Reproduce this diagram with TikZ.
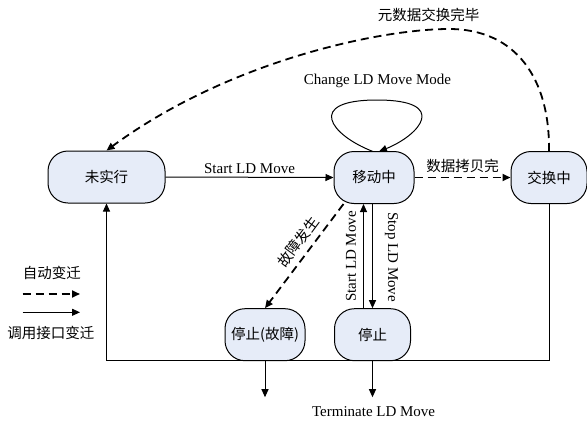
\documentclass[tikz,border=0pt]{standalone}
\usepackage{fontspec}
\setmainfont{Liberation Serif}
\newfontfamily\cjk{Noto Sans CJK SC}
\usetikzlibrary{arrows.meta,calc}
\definecolor{boxfill}{RGB}{230,236,248}
\tikzset{
  state/.style={draw=black, line width=1pt, fill=boxfill, rounded corners=20pt,
    minimum height=52pt, inner sep=1pt, font=\cjk\fontsize{14.5}{17}\selectfont},
  tip/.style={-{Triangle[length=8pt,width=7pt]}},
  solidarrow/.style={tip, line width=1pt},
  autoarrow/.style={tip, line width=1.8pt, dash pattern=on 8pt off 5pt},
  lat/.style={font=\fontsize{15}{17}\selectfont, inner sep=1pt},
  cn/.style={font=\cjk\fontsize{14.5}{17}\selectfont, inner sep=1pt},
}
\begin{document}
\begin{tikzpicture}[x=1pt,y=-1pt]
\useasboundingbox (0,0) rectangle (587,421);
% states
\node[state, minimum width=117pt] (n1) at (106.5,177) {未实行};
\node[state, minimum width=80pt] (n2) at (374,177.5) {移动中};
\node[state, minimum width=76pt] (n3) at (549,177.5) {交换中};
\node[state, minimum width=80pt] (n4) at (265,334.7) {停止(故障)};
\node[state, minimum width=76pt] (n5) at (372.5,334.7) {停止};
\coordinate (bl) at (0,360.7);
\coordinate (sx) at (363.5,0);
\coordinate (tx) at (372.5,0);
% Start LD Move
\draw[solidarrow] (n1.east) -- node[lat, above=2pt] {Start LD Move} (n2.west);
% 数据拷贝完
\draw[autoarrow] (n2.east) -- node[cn, above=3pt] {数据拷贝完} (n3.west);
% self loop
\draw[solidarrow] (373,151.5) .. controls (330,135) and (305,100) .. (377,100)
  .. controls (450,100) and (420,135) .. (379,151.5);
\node[lat] (cm) at (377.5,81) {Change LD Move Mode};
% big dashed curve
\draw[autoarrow] (n3.north) .. controls (550,80) and (517,29) .. (449,29)
  .. controls (382,29) and (230,60) .. (n1.north);
\node[cn] (md) at (428.5,15) {元数据交换完毕};
% fault
\draw[autoarrow] ($(n2.south west)+(10,0)$) -- (n4.north);
\node[cn, rotate=53.4] (fl) at (298,242) {故障发生};
% Start/Stop LD Move vertical
\draw[solidarrow] (sx |- n5.north) -- (sx |- n2.south);
\draw[solidarrow] (tx |- n2.south) -- (tx |- n5.north);
\node[lat, rotate=90] (sl) at (351,256.5) {Start LD Move};
\node[lat, rotate=-90] (tl) at (391.5,257) {Stop LD Move};
% bottom return line
\draw[solidarrow] (n3.south) -- (n3.south |- bl) -| (n1.south);
% terminate
\draw[solidarrow] (n4.south) -- ++(0,36);
\draw[solidarrow] (n5.south) -- ++(0,36);
\node[lat] (term) at (373.6,412) {Terminate LD Move};
% legend
\node[cn] (lg1) at (52,273) {自动变迁};
\coordinate (la1) at (22.5,294);
\coordinate (la2) at (80,294);
\draw[autoarrow] (la1) -- (la2);
\coordinate (lb1) at (22.5,312.3);
\coordinate (lb2) at (80,312.3);
\draw[solidarrow] (lb1) -- (lb2);
\node[cn] (lg2) at (51,332.5) {调用接口变迁};
\end{tikzpicture}
\end{document}
